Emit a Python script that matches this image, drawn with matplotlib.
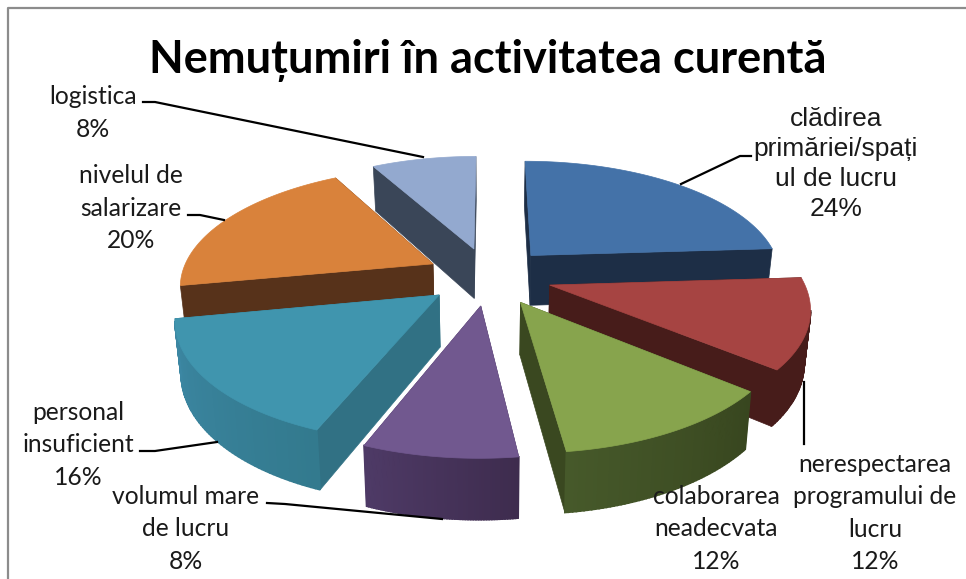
import matplotlib as mpl
mpl.use("Agg")
import matplotlib.pyplot as plt
from matplotlib.patches import Polygon
from matplotlib.colors import to_rgb
import numpy as np

categories = ["clădirea\nprimăriei/spați\nul de lucru", "nerespectarea\nprogramului de\nlucru",
              "colaborarea\nneadecvata", "volumul mare\nde lucru", "personal\ninsuficient",
              "nivelul de\nsalarizare", "logistica"]
values = [24, 12, 12, 8, 16, 20, 8]
title = "Nemuțumiri în activitatea curentă"

top_colors = ["#4472A8", "#A64442", "#87A44D", "#71588F", "#4095AE", "#D9823B", "#93A9CF"]
side_colors = ["#1D2E46", "#471C1A", "#3A4820", "#46335A", "#317184", "#57321A", "#3A4658"]
rim_start = ["#1D2E46", "#471C1A", "#38461F", "#3E2C4E", "#337A8E", "#57321A", "#3A4658"]
rim_end = ["#1D2E46", "#471C1A", "#46592A", "#4E3A66", "#3C87A3", "#57321A", "#3A4658"]

# label position (centre, px) and leader line (px)
label_pos = [(836, 164), (875, 513), (716, 529), (186, 529), (78, 445), (131, 208), (93, 113)]
leaders = [[(751, 156), (740, 156), (681, 184)],
           [(804, 444), (804, 382)],
           None,
           [(267, 503), (285, 504), (442, 519)],
           [(140, 451), (155, 451), (217, 442)],
           [(188, 215), (200, 215), (224, 220)],
           [(143, 102), (155, 102), (423, 157)]]

W, H = 966, 579
CX, CY = 489, 276
R, K = 252, 116
P = 0.165
EXPLODE = 0.25
DEPTH = 51


def project(u, v, z):
    s = 1 / (1 - P * v)
    return CX + R * u * s * (1 - 0.02 * z), CY + K * v * s + DEPTH * z * s ** 0.8


plt.rcParams["font.family"] = "Lato"
fig = plt.figure(figsize=(W / 100, H / 100), dpi=100)
ax = fig.add_axes([0, 0, 1, 1])
ax.set_xlim(0, W)
ax.set_ylim(H, 0)
ax.axis("off")

# frame
ax.plot([8, 8, W], [H, 8, 8], color="#8C8C8C", lw=1.6)

fracs = np.array(values) / sum(values)
ends = np.cumsum(fracs) * 2 * np.pi
starts = ends - fracs * 2 * np.pi
mids = (starts + ends) / 2

for i in np.argsort(np.cos(mids) * -1):
    ou, ov = EXPLODE * np.sin(mids[i]), -EXPLODE * np.cos(mids[i])
    t = np.linspace(starts[i], ends[i], 60)
    u = ou + np.sin(t)
    v = ov - np.cos(t)

    # radial walls, back one first
    walls = [(u[0], v[0]), (u[-1], v[-1])]
    walls.sort(key=lambda p: p[1])
    for wu, wv in walls:
        pts = [project(ou, ov, 0), project(wu, wv, 0), project(wu, wv, 1), project(ou, ov, 1)]
        ax.add_patch(Polygon(pts, fc=side_colors[i], ec=side_colors[i], lw=0.5, zorder=3))

    # outer wall, shaded along the arc, only the part facing the viewer
    c0, c1 = np.array(to_rgb(rim_start[i])), np.array(to_rgb(rim_end[i]))
    for j in range(len(t) - 1):
        if -np.cos((t[j] + t[j + 1]) / 2) < 0.2:
            continue
        pts = [project(u[j], v[j], 0), project(u[j + 1], v[j + 1], 0),
               project(u[j + 1], v[j + 1], 1), project(u[j], v[j], 1)]
        c = c0 + (c1 - c0) * j / (len(t) - 2)
        ax.add_patch(Polygon(pts, fc=c, ec=c, lw=1.2, zorder=3))

    top = [project(ou, ov, 0)] + [project(a, b, 0) for a, b in zip(u, v)]
    ax.add_patch(Polygon(top, fc=top_colors[i], ec=top_colors[i], lw=0.5, zorder=3))

for name, val, pos, lead in zip(categories, values, label_pos, leaders):
    if name.startswith("clădirea"):
        fam, size, spacing = "Liberation Sans", 19, 1.3
    else:
        fam, size, spacing = "Lato", 17.7, 1.5
    ax.text(pos[0], pos[1], f"{name}\n{val}%", ha="center", va="center", fontsize=size,
            family=fam, color="#1a1a1a", linespacing=spacing, zorder=5)
    if lead:
        ax.plot(*zip(*lead), color="black", lw=1.6, zorder=4)

ax.text(488, 60, title, ha="center", va="center", fontsize=32.5, fontweight="bold", color="black")

fig.savefig("out.png", dpi=100)
plt.close()
